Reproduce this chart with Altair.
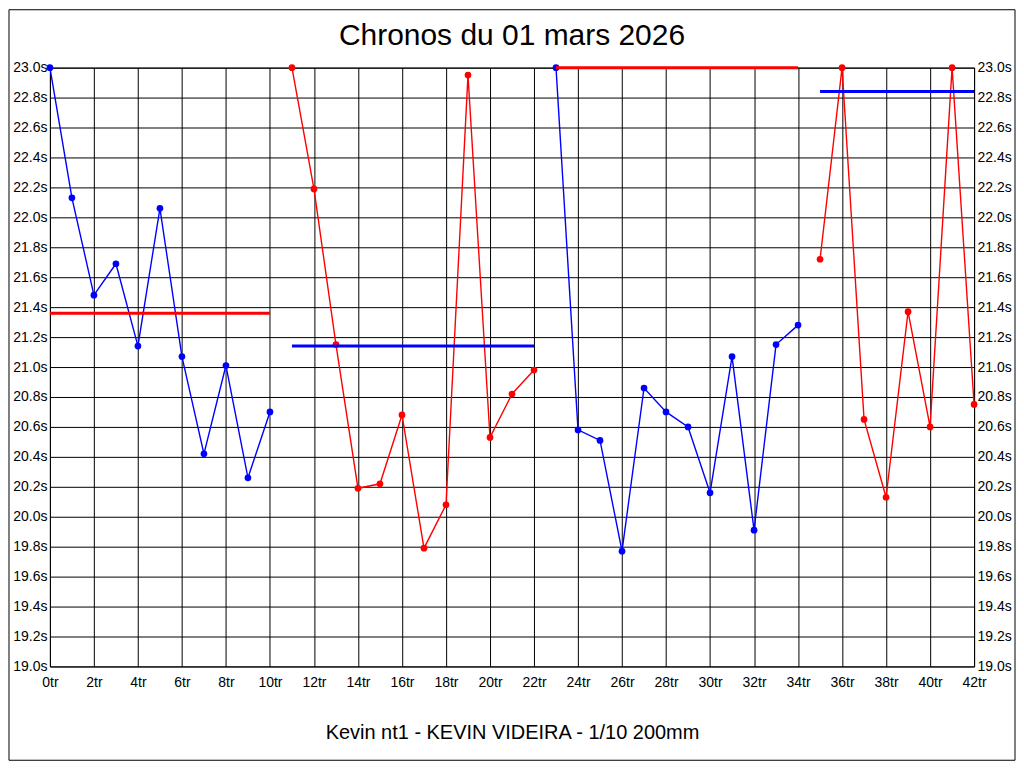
import altair as alt
import pandas as pd

# ---- data ----
laps = list(range(43))
times = [23.00, 22.13, 21.48, 21.69, 21.14, 22.06, 21.07, 20.42, 21.01, 20.26, 20.70,
         23.00, 22.19, 21.15, 20.19, 20.22, 20.68, 19.79, 20.08, 22.95, 20.53, 20.82, 20.98,
         23.00, 20.58, 20.51, 19.77, 20.86, 20.70, 20.60, 20.16, 21.07, 19.91, 21.15, 21.28,
         21.72, 23.00, 20.65, 20.13, 21.37, 20.60, 23.00, 20.75]
segments = [1, 1, 1, 1, 1, 1, 1, 1, 1, 1, 1,
            2, 2, 2, 2, 2, 2, 2, 2, 2, 2, 2, 2,
            3, 3, 3, 3, 3, 3, 3, 3, 3, 3, 3, 3,
            4, 4, 4, 4, 4, 4, 4, 4]
seg_ids = [1, 2, 3, 4]
seg_colors = ["bleu", "rouge", "bleu", "rouge"]
mean_start = [0, 11, 23, 35]
mean_end = [10, 22, 34, 42]
mean_value = [21.36, 21.14, 23.00, 22.84]
mean_colors = ["rouge", "bleu", "rouge", "bleu"]

x_ticks = [0, 2, 4, 6, 8, 10, 12, 14, 16, 18, 20, 22, 24, 26, 28, 30, 32, 34, 36, 38, 40, 42]
y_ticks = [19.0, 19.2, 19.4, 19.6, 19.8, 20.0, 20.2, 20.4, 20.6, 20.8, 21.0,
           21.2, 21.4, 21.6, 21.8, 22.0, 22.2, 22.4, 22.6, 22.8, 23.0]

title_text = "Chronos du 01 mars 2026"
caption = "Kevin nt1 - KEVIN VIDEIRA - 1/10 200mm"

color_of = dict(zip(seg_ids, seg_colors))
laps_df = pd.DataFrame({"tour": laps, "temps": times, "segment": segments})
laps_df["couleur"] = laps_df["segment"].map(color_of)
means_df = pd.DataFrame({"debut": mean_start, "fin": mean_end,
                         "moyenne": mean_value, "couleur": mean_colors})
one_row = pd.DataFrame({"k": [0]})

FONT = "Liberation Sans"
color_scale = alt.Scale(domain=["bleu", "rouge"], range=["#0000ff", "#ff0000"])
x_scale = alt.Scale(domain=[0, 42], nice=False, zero=False)
y_scale = alt.Scale(domain=[19, 23], nice=False, zero=False)

common_axis = dict(values=y_ticks, labelExpr="format(datum.value, '.1f') + 's'",
                   ticks=False, domain=False, labelFont=FONT, labelFontSize=14,
                   labelColor="black", labelPadding=3, title=None)

x_enc = alt.X("tour:Q", scale=x_scale,
              axis=alt.Axis(values=x_ticks, labelExpr="datum.value + 'tr'",
                            grid=True, gridColor="black", gridOpacity=1, gridWidth=1,
                            ticks=False, domain=False, labelFont=FONT, labelFontSize=14,
                            labelColor="black", labelPadding=9, labelFlush=False,
                            title=caption, titleFont=FONT, titleFontSize=20,
                            titleFontWeight="normal", titleColor="black", titlePadding=33))

lines = alt.Chart(laps_df).mark_line(strokeWidth=1.4).encode(
    x=x_enc,
    y=alt.Y("temps:Q", scale=y_scale,
            axis=alt.Axis(orient="left", grid=True, gridColor="black", gridOpacity=1,
                          gridWidth=1, **common_axis)),
    color=alt.Color("couleur:N", scale=color_scale, legend=None),
    detail="segment:N",
)

points = alt.Chart(laps_df).mark_circle(size=45, opacity=1).encode(
    x=alt.X("tour:Q", scale=x_scale),
    y=alt.Y("temps:Q", scale=y_scale,
            axis=alt.Axis(orient="right", grid=False, **common_axis)),
    color=alt.Color("couleur:N", scale=color_scale, legend=None),
)

means = alt.Chart(means_df).mark_rule(strokeWidth=3).encode(
    x=alt.X("debut:Q", scale=x_scale),
    x2="fin:Q",
    y=alt.Y("moyenne:Q", scale=y_scale, axis=None),
    color=alt.Color("couleur:N", scale=color_scale, legend=None),
)

# outer frame of the picture
frame = alt.Chart(one_row).mark_rect(fillOpacity=0, stroke="black", strokeWidth=1).encode(
    x=alt.value(-41), x2=alt.value(967), y=alt.value(-58), y2=alt.value(694)
)

# chart title as a text mark (kept inside the frame)
title = alt.Chart(one_row).mark_text(font=FONT, fontSize=30, color="black",
                                     align="center", baseline="alphabetic").encode(
    x=alt.value(463), y=alt.value(-23), text=alt.value(title_text)
)

chart = alt.layer(lines, points, means, frame, title).resolve_scale(
    y="independent"
).properties(
    width=926, height=600, padding=0, background="white",
).configure_view(stroke="black", strokeWidth=1)

chart.save("out.html", embed_options={"renderer": "svg", "actions": False})
